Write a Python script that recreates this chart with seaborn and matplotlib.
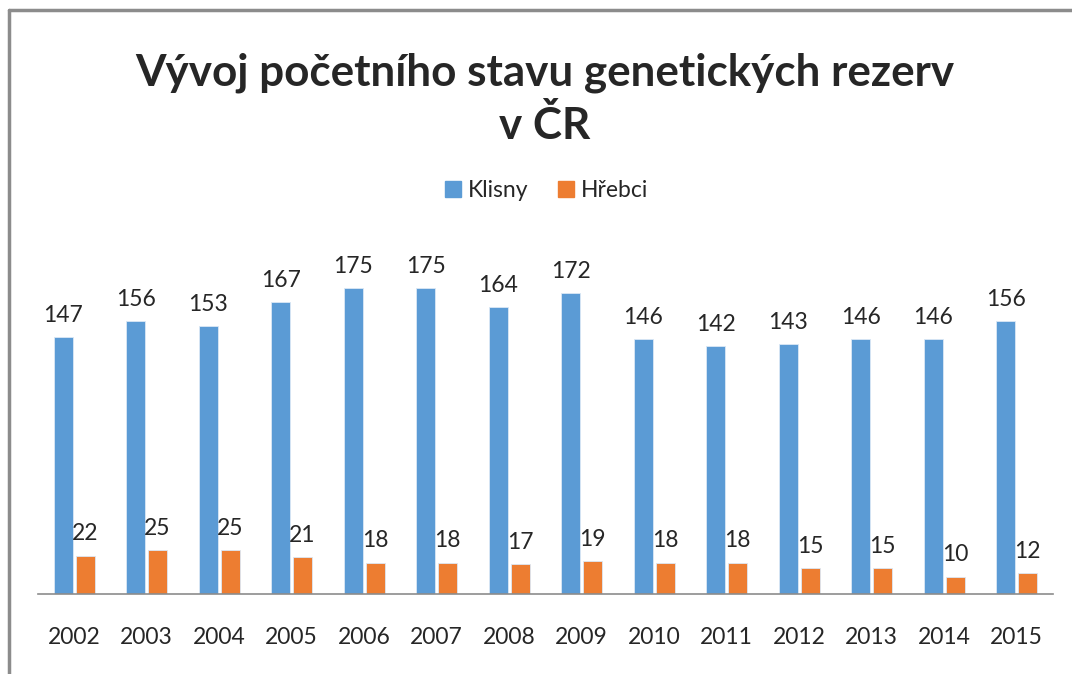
import pandas as pd
import matplotlib.pyplot as plt
import seaborn as sns

# Data
years = ['2002', '2003', '2004', '2005', '2006', '2007', '2008',
         '2009', '2010', '2011', '2012', '2013', '2014', '2015']
klisny = [147, 156, 153, 167, 175, 175, 164, 172, 146, 142, 143, 146, 146, 156]
hrebci = [22, 25, 25, 21, 18, 18, 17, 19, 18, 18, 15, 15, 10, 12]
series = ['Klisny', 'Hřebci']

df = pd.DataFrame({'rok': years * 2,
                   'pocet': klisny + hrebci,
                   'typ': [series[0]] * len(years) + [series[1]] * len(years)})

sns.set_style('white')
plt.rcParams['font.family'] = ['Lato', 'DejaVu Sans']

fig = plt.figure(figsize=(10.72, 6.74), dpi=100)
ax = fig.add_axes([0.0354, 0.1187, 0.9469, 0.519])

palette = {'Klisny': '#5B9BD5', 'Hřebci': '#ED7D31'}
sns.barplot(data=df, x='rok', y='pocet', hue='typ', palette=palette,
            width=0.6, gap=0.12, saturation=1, edgecolor='#dbe8f5',
            linewidth=0.6, ax=ax)

for cont in ax.containers:
    ax.bar_label(cont, padding=8, fontsize=16.5)

ax.set_ylim(0, 200)
ax.set_xlim(-0.5, len(years) - 0.5)
ax.set_xlabel('')
ax.set_ylabel('')
ax.set_yticks([])
ax.tick_params(axis='x', length=0, pad=24, labelsize=16.5)
for s in ['top', 'right', 'left']:
    ax.spines[s].set_visible(False)
ax.spines['bottom'].set_color('#8c8c8c')
ax.spines['bottom'].set_linewidth(1.2)

ax.get_legend().remove()
handles = [plt.Rectangle((0, 0), 1, 1, color=palette[s]) for s in series]
fig.legend(handles, series, loc='center', bbox_to_anchor=(0.51, 0.717),
           ncol=2, frameon=False, fontsize=16.5, handlelength=0.7,
           handleheight=0.7, handletextpad=0.3, columnspacing=1.3)

fig.text(0.508, 0.853, 'Vývoj početního stavu genetických rezerv\nv ČR',
         ha='center', va='center', fontsize=31.7, fontweight='bold',
         linespacing=1.35)

# chart frame (left and top edges visible)
fig.add_artist(plt.Line2D([0.0088, 0.0088], [0, 0.985], color='#8c8c8c', lw=2.5))
fig.add_artist(plt.Line2D([0.0088, 1.0], [0.985, 0.985], color='#8c8c8c', lw=2.5))

fig.savefig('out.png', dpi=100)
